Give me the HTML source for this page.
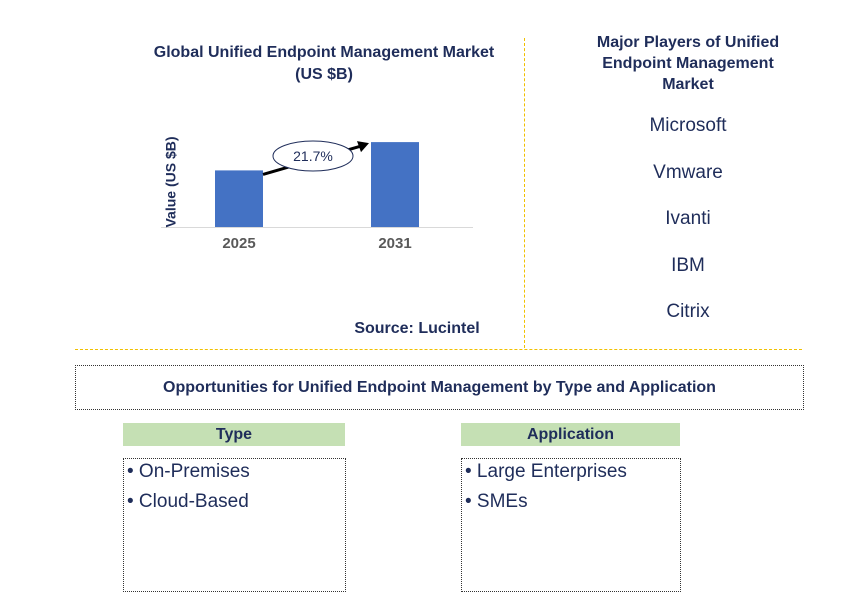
<!DOCTYPE html>
<html><head><meta charset="utf-8"><style>
body{margin:0;width:868px;height:612px;background:#fff;font-family:"Liberation Sans",Arial,sans-serif;position:relative;overflow:hidden}
.a{position:absolute}
.t{color:#1f2d5a;font-weight:bold;text-align:center}
.p{color:#1f2d5a;font-size:19px;text-align:center;width:320px;left:528px}
.hdr{background:#c5e0b4;color:#1f2d5a;font-weight:bold;font-size:16px;text-align:center;line-height:23px;height:23px}
.box{border:1px dotted #333;box-sizing:border-box}
.li{color:#1f2d5a;font-size:19px}
</style></head><body>
<div class="a t" style="left:124px;top:42px;width:400px;font-size:16px;line-height:22px">Global Unified Endpoint Management Market<br>(US $B)</div>
<svg class="a" style="left:0;top:0" width="524" height="345">
<g id="g"></g>
<text x="172" y="182" transform="rotate(-90 172 182)" font-size="14" font-weight="bold" fill="#1f2d5a" text-anchor="middle" dominant-baseline="middle">Value (US $B)</text>
<text x="417" y="333" font-size="16" font-weight="bold" fill="#1f2d5a" text-anchor="middle">Source: Lucintel</text>
</svg>
<div class="a" style="left:524px;top:38px;height:310px;border-left:1px dashed #f0c000"></div>
<div class="a" style="left:75px;top:349px;width:727px;border-top:1px dashed #f0c000"></div>
<div class="a t" style="left:588px;top:32px;width:200px;font-size:16px;line-height:21px">Major Players of Unified Endpoint Management Market</div>
<div class="a p" style="top:115px">Microsoft</div>
<div class="a p" style="top:162px">Vmware</div>
<div class="a p" style="top:208px">Ivanti</div>
<div class="a p" style="top:255px">IBM</div>
<div class="a p" style="top:301px">Citrix</div>
<div class="a box t" style="left:75px;top:365px;width:729px;height:45px;line-height:43px;font-size:16px">Opportunities for Unified Endpoint Management by Type and Application</div>
<div class="a hdr" style="left:123px;top:423px;width:222px">Type</div>
<div class="a box" style="left:123px;top:458px;width:223px;height:134px">
<div class="li" style="margin:2px 0 0 3px">• On-Premises</div>
<div class="li" style="margin:8px 0 0 3px">• Cloud-Based</div></div>
<div class="a hdr" style="left:461px;top:423px;width:219px">Application</div>
<div class="a box" style="left:461px;top:458px;width:220px;height:134px">
<div class="li" style="margin:2px 0 0 3px">• Large Enterprises</div>
<div class="li" style="margin:8px 0 0 3px">• SMEs</div></div>
<script>
const categories=["2025","2031"];
const values=[2.0,3.0];
const cagr=["21.7%"];
const NS="http://www.w3.org/2000/svg",g=document.getElementById("g");
const base=227,scaleY=v=>base-v*28.3,bx=i=>215+i*156,bw=48;
function mk(t,a){const e=document.createElementNS(NS,t);for(const k in a)e.setAttribute(k,a[k]);g.appendChild(e);return e;}
const ax=mk("line",{x1:161,y1:base+0.5,x2:473,y2:base+0.5,stroke:"#d9d9d9","stroke-width":1});


values.forEach((v,i)=>{
 const r=mk("rect",{x:bx(i),y:scaleY(v),width:bw,height:base-scaleY(v),fill:"#4472c4"});
 
 
 const t=mk("text",{x:bx(i)+bw/2,y:base+21,"font-size":15,"font-weight":"bold",fill:"#595959","text-anchor":"middle"});
 t.textContent=categories[i];
 
 
});
const x1=bx(0)+bw,y1=scaleY(values[0])+4,x2=bx(1)-2,y2=scaleY(values[1])+1;
const ar=mk("line",{x1:x1,y1:y1,x2:x2-8,y2:y2+3,stroke:"#000","stroke-width":3});


const hd=mk("polygon",{points:`${x2},${y2} ${x2-12},${y2-2} ${x2-8},${y2+9}`,fill:"#000"});


const el=mk("ellipse",{cx:313,cy:156,rx:40,ry:15,fill:"#fff",stroke:"#1f2d5a","stroke-width":1});


const ct=mk("text",{x:313,y:161,"font-size":14,fill:"#1f2d5a","text-anchor":"middle"});
ct.textContent=cagr[0];


</script>
</body></html>
